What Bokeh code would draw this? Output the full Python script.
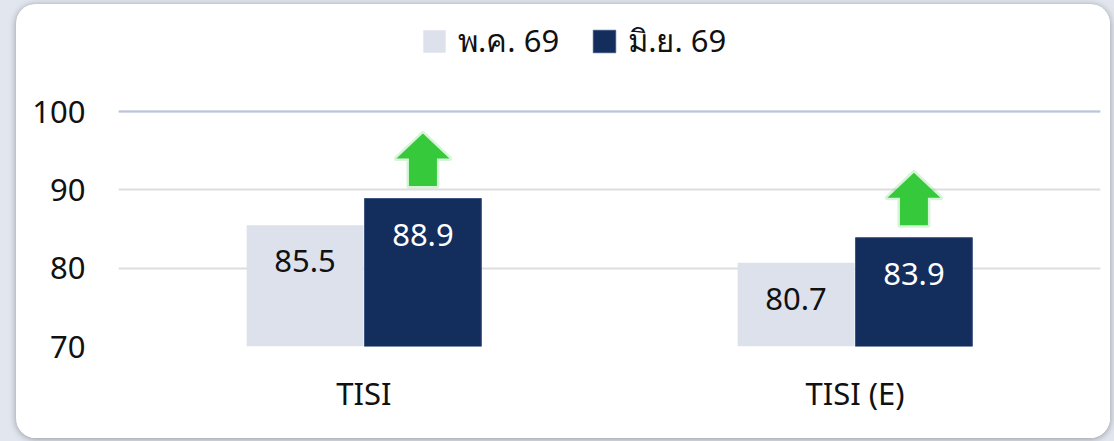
from bokeh.plotting import figure
from bokeh.models import Range1d, FixedTicker, LabelSet, ColumnDataSource, Legend, LegendItem, Span
from bokeh.core.properties import value
from bokeh.embed import file_html
from bokeh.resources import INLINE

# ---- data ----
categories = ["TISI", "TISI (E)"]
series_names = ["พ.ค. 69", "มิ.ย. 69"]
may_values = [85.5, 80.7]
jun_values = [88.9, 83.9]
y_ticks = [70, 80, 90, 100]

FONT = "Noto Sans"
LIGHT = "#dde1ec"
NAVY = "#132d5d"
GREEN = "#36c93b"

n = len(categories)
centers = [i + 0.5 for i in range(n)]
off = 0.12
bw = 0.238

# frame reaches up into the header so the legend can sit inside it
y_top = y_ticks[-1] + 12.4

p = figure(width=1094, height=434,
           x_range=Range1d(0, n), y_range=Range1d(y_ticks[0], y_top),
           output_backend="svg", toolbar_location=None,
           min_border_left=102, min_border_right=10, min_border_top=10, min_border_bottom=92,
           background_fill_color="white", border_fill_color="white", outline_line_color=None)

src_may = ColumnDataSource(dict(x=[c - off for c in centers], top=may_values,
                                label=[f"{v:.1f}" for v in may_values]))
src_jun = ColumnDataSource(dict(x=[c + off for c in centers], top=jun_values,
                                label=[f"{v:.1f}" for v in jun_values]))

r1 = p.vbar(x="x", top="top", bottom=y_ticks[0], width=bw, source=src_may,
            fill_color=LIGHT, line_color=None)
r2 = p.vbar(x="x", top="top", bottom=y_ticks[0], width=bw, source=src_jun,
            fill_color=NAVY, line_color="#3d5480", line_width=1)

p.add_layout(LabelSet(x="x", y="top", text="label", source=src_may, y_offset=-36,
                      text_align="center", text_baseline="middle",
                      text_font=value(FONT), text_font_size="31px", text_color="#111111"))
p.add_layout(LabelSet(x="x", y="top", text="label", source=src_jun, y_offset=-36,
                      text_align="center", text_baseline="middle",
                      text_font=value(FONT), text_font_size="31px", text_color="#ffffff"))

# green up arrows above the June bars
xs, ys = [], []
for c, v in zip(centers, jun_values):
    cx = c + off
    hs, hh = 0.0285, 0.054
    xs.append([cx - hs, cx + hs, cx + hs, cx + hh, cx, cx - hh, cx - hs])
    ys.append([v + 1.6, v + 1.6, v + 5.1, v + 5.1, v + 8.3, v + 5.1, v + 5.1])
p.patches(xs, ys, fill_color=None, line_color=GREEN, line_alpha=0.2, line_width=5, line_join="round")
p.patches(xs, ys, fill_color=GREEN, line_color=None)

# axes
p.xaxis.ticker = FixedTicker(ticks=centers)
p.xaxis.major_label_overrides = {c: cat for c, cat in zip(centers, categories)}
p.yaxis.ticker = FixedTicker(ticks=y_ticks)
for ax in (p.xaxis, p.yaxis):
    ax.axis_line_color = None
    ax.major_tick_line_color = None
    ax.minor_tick_line_color = None
    ax.major_label_text_font = FONT
    ax.major_label_text_font_size = "31px"
    ax.major_label_text_color = "#111111"
p.yaxis.major_label_standoff = 27
p.xaxis.major_label_standoff = 19

p.xgrid.grid_line_color = None
p.ygrid.grid_line_color = "#dedede"
p.ygrid.grid_line_width = 2
p.add_layout(Span(location=y_ticks[-1], dimension="width", line_color="#b8c3dd", line_width=2))

legend = Legend(items=[LegendItem(label=series_names[0], renderers=[r1]),
                       LegendItem(label=series_names[1], renderers=[r2])],
                orientation="horizontal", location=(302, 280),
                glyph_width=28, glyph_height=28, label_standoff=10, spacing=31,
                padding=0, margin=0, border_line_color=None, background_fill_alpha=0,
                label_text_font=FONT, label_text_font_size="31px", label_text_color="#111111")
p.add_layout(legend)

p.styles = {"border-radius": "20px", "overflow": "hidden", "background-color": "white",
            "box-shadow": "0 1px 7px rgba(0,0,0,0.35)"}

TEMPLATE = """{% block postamble %}
<style>
html, body { background: #e2e6ef !important; }
body { margin: 0 !important; padding: 4px 0 0 16px !important; box-sizing: border-box; }
</style>
{% endblock %}"""

open("out.html", "w").write(file_html(p, INLINE, template=TEMPLATE))
